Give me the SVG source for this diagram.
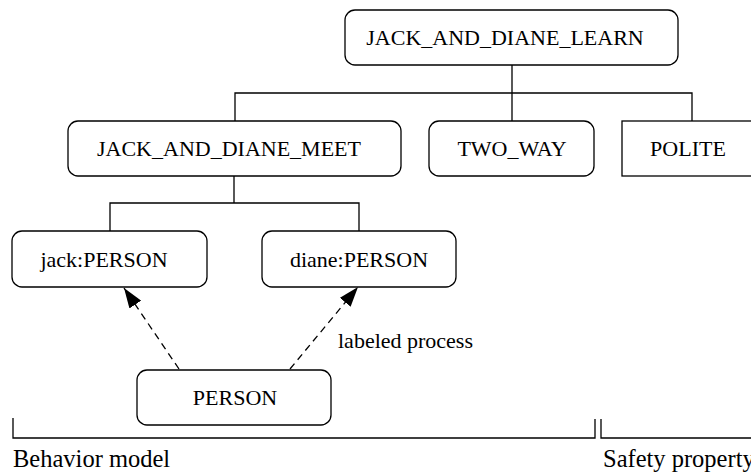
<svg xmlns="http://www.w3.org/2000/svg" width="751" height="474" viewBox="0 0 751 474">
<style>
.n{fill:#fff;stroke:#000;stroke-width:1.3}
.t{font-family:"Liberation Serif","Times New Roman",serif;font-size:22px;fill:#000;text-anchor:middle}
.l{font-family:"Liberation Serif","Times New Roman",serif;font-size:22px;fill:#000}
.b{font-family:"Liberation Serif","Times New Roman",serif;font-size:24.5px;fill:#000}
.c{fill:none;stroke:#000;stroke-width:1.3}
.d{fill:none;stroke:#000;stroke-width:1.3;stroke-dasharray:7 5}
</style>
<defs>
<marker id="ah" markerWidth="20" markerHeight="14" refX="20" refY="7" orient="auto" markerUnits="userSpaceOnUse">
<path d="M0,0 L20,7 L0,14 Z" fill="#000"/>
</marker>
</defs>
<g id="connectors">
<path class="c" d="M512,65 V121 M235,121 V93 H692 V121"/>
<path class="c" d="M234,176 V203 M110,231 V203 H359 V231"/>
<path class="d" d="M179,369 L124,288" marker-end="url(#ah)"/>
<path class="d" d="M290,369 L358,287" marker-end="url(#ah)"/>
<text class="l" x="338" y="348">labeled process</text>
</g>
<g id="learn"><rect class="n" x="345" y="10" width="333" height="55" rx="10"/><text class="t" x="505" y="45">JACK_AND_DIANE_LEARN</text></g>
<g id="meet"><rect class="n" x="68" y="121" width="333" height="55" rx="10"/><text class="t" x="229" y="156">JACK_AND_DIANE_MEET</text></g>
<g id="twoway"><rect class="n" x="429" y="121" width="165" height="55" rx="10"/><text class="t" x="512" y="156">TWO_WAY</text></g>
<g id="polite"><rect class="n" x="622" y="121" width="140" height="55"/><text class="t" x="688" y="156">POLITE</text></g>
<g id="jack"><rect class="n" x="12" y="231" width="195" height="56" rx="10"/><text class="t" x="104" y="267">jack:PERSON</text></g>
<g id="diane"><rect class="n" x="262" y="231" width="194" height="56" rx="10"/><text class="t" x="359" y="267">diane:PERSON</text></g>
<g id="person"><rect class="n" x="137" y="370" width="194" height="55" rx="10"/><text class="t" x="235" y="405">PERSON</text></g>
<g id="brackets">
<path class="c" d="M13,418 V438 H595 V419"/>
<path class="c" d="M601,419 V438 H751"/>
<text class="b" x="13" y="467">Behavior model</text>
<text class="b" x="603" y="467">Safety property</text>
</g>
</svg>
